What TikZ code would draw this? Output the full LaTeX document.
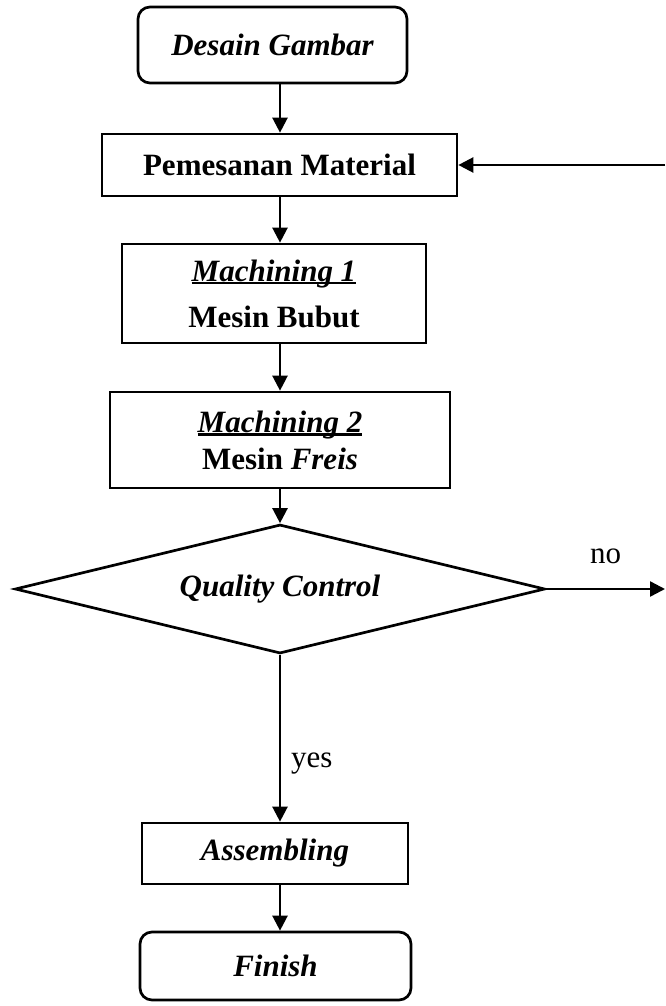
\documentclass[tikz,border=0pt]{standalone}
\usepackage{fontspec}
\setmainfont{Liberation Serif}
\usepackage{tikz}
\usetikzlibrary{arrows.meta,shapes.geometric}
\newcommand{\ulin}[1]{\setbox0\hbox{#1}\rlap{\rule[-0.11em]{\wd0}{0.075em}}\box0}
\tikzset{
  box/.style={draw,line width=2.7pt,inner sep=0pt,align=center,
    font=\fontsize{31}{37}\selectfont},
  term/.style={box,rounded corners=12pt},
  flow/.style={-{Triangle[length=15pt,width=15pt]},line width=2.4pt},
  lbl/.style={inner sep=0pt,font=\fontsize{31}{37}\selectfont}
}

\begin{document}
\begin{tikzpicture}[x=1pt,y=-1pt]
  \useasboundingbox (0,0) rectangle (666,1006);
  \coordinate (ax) at (280,0);
  \coordinate (redge) at (665,0);
  \node[term,minimum width=269pt,minimum height=76pt] (dg) at (272.5,45)
    {\bfseries\itshape Desain Gambar};
  \node[box,minimum width=355pt,minimum height=62pt] (pm) at (279.5,165)
    {\bfseries Pemesanan Material};
  \node[box,minimum width=304pt,minimum height=99pt,
    font=\fontsize{31}{46}\selectfont] (m1) at (274,293.5)
    {\bfseries\itshape\ulin{Machining 1}\\ \bfseries Mesin Bubut};
  \node[box,minimum width=340pt,minimum height=96pt] (m2) at (280,440)
    {\bfseries\itshape\ulin{Machining 2}\\ \bfseries Mesin \textit{Freis}};
  \node[box,diamond,aspect=4.1,minimum width=530pt,minimum height=129pt]
    (qc) at (280,589) {\bfseries\itshape Quality Control};
  \node[box,minimum width=266pt,minimum height=61pt] (asm) at (275,853.5)
    {\bfseries\itshape Assembling};
  \node[term,minimum width=271pt,minimum height=68pt] (fin) at (275.5,966)
    {\bfseries\itshape Finish};

  \draw[flow] (dg.south -| ax) -- (pm.north -| ax);
  \draw[flow] (pm.south -| ax) -- (m1.north -| ax);
  \draw[flow] (m1.south -| ax) -- (m2.north -| ax);
  \draw[flow] (m2.south -| ax) -- (qc.north);
  \draw[flow] (qc.south) -- (asm.north -| qc.south)
    node[lbl,pos=0.65,anchor=west,xshift=10pt] (yes) {yes};
  \draw[flow] (asm.south -| qc.south) -- (fin.north -| qc.south);
  \draw[flow] (qc.east) -- (qc.east -| redge)
    node[lbl,pos=0.5,above=24pt] (no) {no};
  \draw[flow] (redge |- pm.east) -- (pm.east);
\end{tikzpicture}
\end{document}
